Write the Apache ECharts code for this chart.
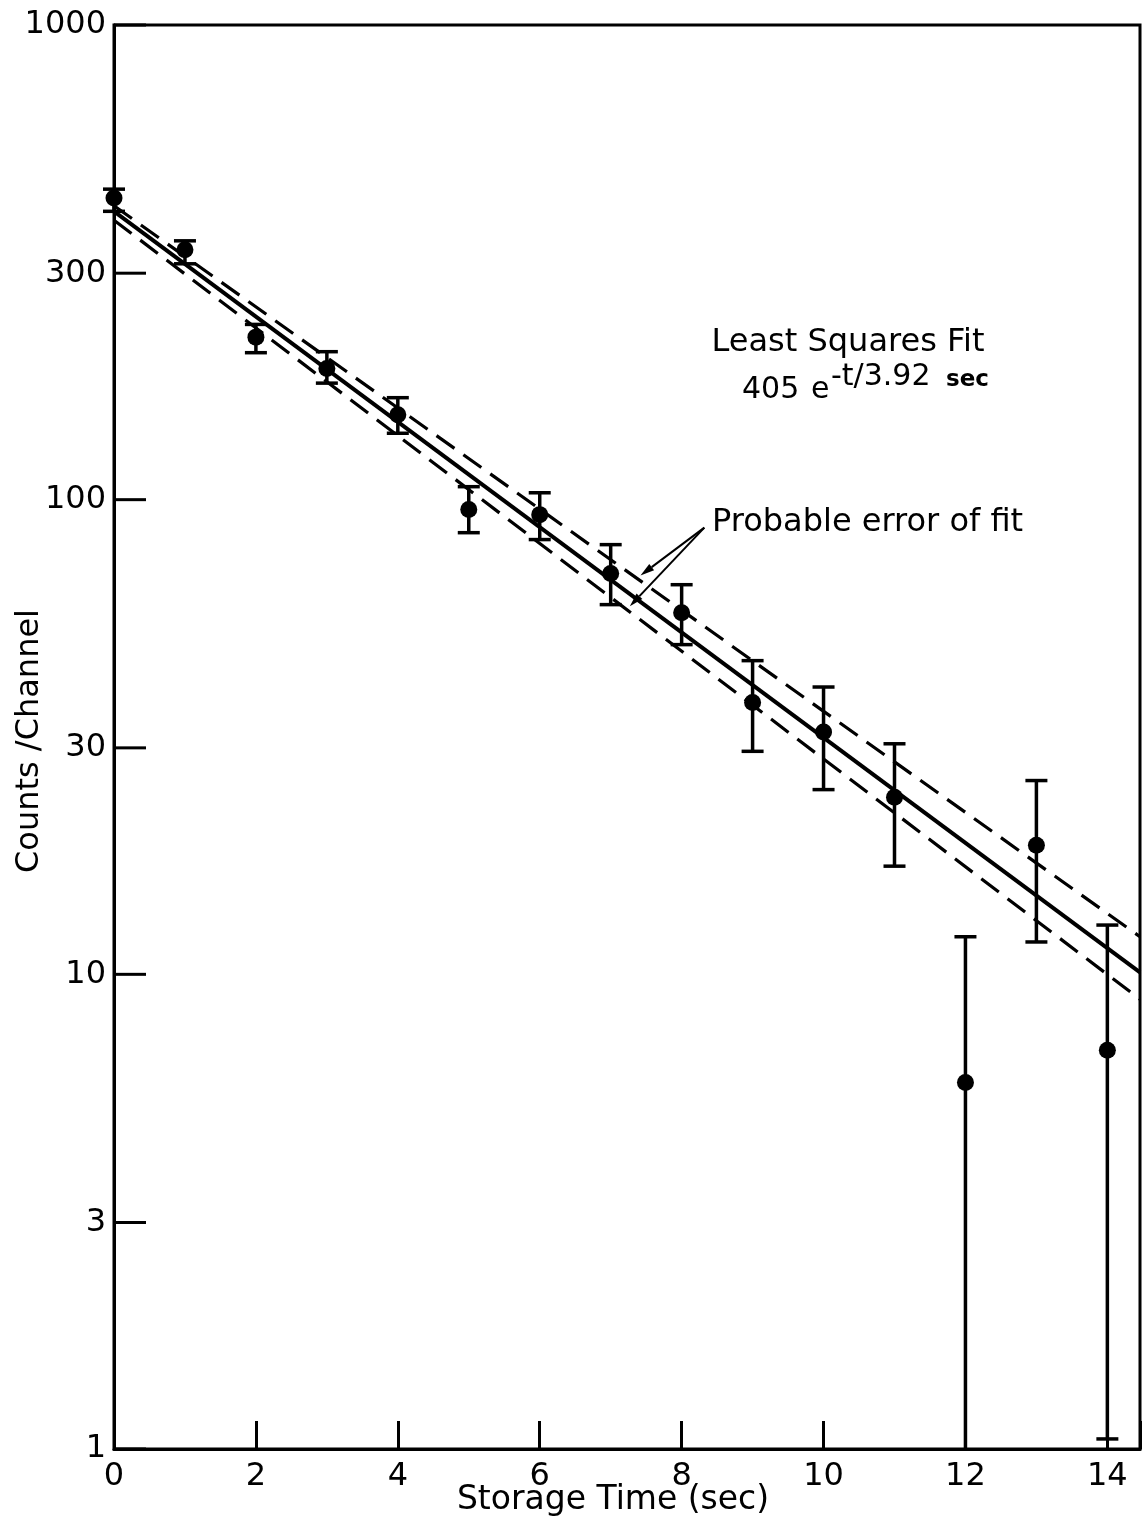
<!DOCTYPE html>
<html><head><meta charset="utf-8">
<script src="https://cdn.jsdelivr.net/npm/echarts@6/dist/echarts.min.js"></script>
<style>html,body{margin:0;padding:0;background:#fff}#c{width:1143px;height:1533px}</style>
</head><body><div id="c"></div>
<script>
// ---- data ----
const times    = [0, 1, 2, 3, 4, 5, 6, 7, 8, 9, 10, 11, 12, 13, 14];
const counts   = [432, 336, 220, 189, 151, 95.3, 93.0, 69.9, 57.8, 37.4, 32.4, 23.6, 5.92, 18.7, 6.92];
const errLow   = [405, 314, 204, 176, 138, 85.2, 82.4, 60.1, 49.5, 29.5, 24.5, 16.9, 1.0, 11.7, 1.05];
const errHigh  = [451, 351, 234, 205, 164, 106.5, 103.4, 80.4, 66.2, 45.8, 40.3, 30.6, 12.0, 25.6, 12.7];
const fitTimes = [0, 14.46];
const fitCounts = [405, 10.1];
const fitUpper  = [416, 12.0];
const fitLower  = [388, 8.86];
const xTicks = [0, 2, 4, 6, 8, 10, 12, 14];
const yTicks = [1, 3, 10, 30, 100, 300, 1000];
const yTickLabels = ['1', '3', '10', '30', '100', '300', '1000'];
const arrowFrom = [8.32, 87.3];
const arrowTo = [[7.42, 69.2], [7.27, 59.6]];

const FONT = 'DejaVu Sans';
const chart = echarts.init(document.getElementById('c'), null, {renderer: 'canvas'});

const pair = (xs, ys) => xs.map((x, i) => [x, ys[i]]);

const option = {
  backgroundColor: '#fff',
  animation: false,
  grid: {left: 114, top: 25, width: 1027, height: 1424, show: true, borderColor: '#000', borderWidth: 3, backgroundColor: 'transparent'},
  xAxis: {
    type: 'value', min: 0, max: 14.46, interval: 2,
    axisLine: {show: true, lineStyle: {color: '#000', width: 3}},
    axisTick: {show: true, inside: true, length: 28, lineStyle: {color: '#000', width: 3}},
    axisLabel: {
      show: true, margin: 12, color: '#000', fontFamily: FONT, fontSize: 32,
      formatter: v => xTicks.includes(v) ? String(v) : ''
    },
    splitLine: {show: false}
  },
  yAxis: {
    type: 'log', logBase: 10, min: 1, max: 1000,
    axisLine: {show: true, lineStyle: {color: '#000', width: 3}},
    axisTick: {show: false}, axisLabel: {show: false}, splitLine: {show: false}, minorTick: {show: false}
  },
  series: [
    { // y ticks + labels at 1,3,10,...
      type: 'custom', silent: true, z: 5,
      data: yTicks.map((v, i) => [0, v, i]),
      renderItem: (params, api) => {
        const v = api.value(1);
        const p = api.coord([0, v]);
        const lab = yTickLabels[api.value(2)];
        return {
          type: 'group',
          children: [
            {type: 'line', shape: {x1: p[0], y1: p[1], x2: p[0] + 32, y2: p[1]}, style: {stroke: '#000', lineWidth: 3}},
            {type: 'text', style: {text: lab, x: p[0] - 8, y: p[1], align: 'right', verticalAlign: 'middle', fontFamily: FONT, fontSize: 32, fill: '#000'}}
          ]
        };
      }
    },
    { // fit
      type: 'line', data: pair(fitTimes, fitCounts), symbol: 'none', z: 3,
      lineStyle: {color: '#000', width: 4}
    },
    { // probable error upper
      type: 'line', data: pair(fitTimes, fitUpper), symbol: 'none', z: 3,
      lineStyle: {color: '#000', width: 3.2, type: [22, 11]}
    },
    { // probable error lower
      type: 'line', data: pair(fitTimes, fitLower), symbol: 'none', z: 3,
      lineStyle: {color: '#000', width: 3.2, type: [22, 11]}
    },
    { // error bars
      type: 'custom', z: 4,
      data: times.map((t, i) => [t, errLow[i], errHigh[i]]),
      renderItem: (params, api) => {
        const t = api.value(0);
        const top = api.coord([t, api.value(2)]);
        const bot = api.coord([t, api.value(1)]);
        const w = 11;
        const st = {stroke: '#000', lineWidth: 3.5};
        const ch = [
          {type: 'line', shape: {x1: top[0], y1: top[1], x2: bot[0], y2: bot[1]}, style: st},
          {type: 'line', shape: {x1: top[0] - w, y1: top[1], x2: top[0] + w, y2: top[1]}, style: st}
        ];
        if (api.value(1) > 1) ch.push({type: 'line', shape: {x1: bot[0] - w, y1: bot[1], x2: bot[0] + w, y2: bot[1]}, style: st});
        return {type: 'group', children: ch};
      }
    },
    { // data points
      type: 'scatter', data: pair(times, counts), symbol: 'circle', symbolSize: 17, z: 6,
      itemStyle: {color: '#000', opacity: 1}
    },
    { // annotation arrows
      type: 'custom', silent: true, z: 7,
      data: arrowTo.map(p => [arrowFrom[0], arrowFrom[1], p[0], p[1]]),
      renderItem: (params, api) => {
        const a = api.coord([api.value(0), api.value(1)]);
        const b = api.coord([api.value(2), api.value(3)]);
        const dx = b[0] - a[0], dy = b[1] - a[1];
        const L = Math.hypot(dx, dy), ux = dx / L, uy = dy / L, nx = -uy, ny = ux;
        const hl = 14, hw = 4;
        const base = [b[0] - ux * hl, b[1] - uy * hl];
        return {
          type: 'group',
          children: [
            {type: 'line', shape: {x1: a[0], y1: a[1], x2: base[0], y2: base[1]}, style: {stroke: '#000', lineWidth: 2}},
            {type: 'polygon', shape: {points: [b, [base[0] + nx * hw, base[1] + ny * hw], [base[0] - nx * hw, base[1] - ny * hw]]}, style: {fill: '#000'}}
          ]
        };
      }
    }
  ],
  graphic: [
    {type: 'text', style: {text: 'Least Squares Fit', x: 848, y: 343, align: 'center', verticalAlign: 'middle', fontFamily: FONT, fontSize: 32, fill: '#000'}},
    {type: 'text', style: {text: '405', x: 742, y: 390, align: 'left', verticalAlign: 'middle', fontFamily: FONT, fontSize: 30, fill: '#000'}},
    {type: 'text', style: {text: 'e', x: 811, y: 390, align: 'left', verticalAlign: 'middle', fontFamily: FONT, fontSize: 30, fill: '#000'}},
    {type: 'text', style: {text: '-t/3.92', x: 831, y: 377, align: 'left', verticalAlign: 'middle', fontFamily: FONT, fontSize: 30, fill: '#000'}},
    {type: 'text', style: {text: 'sec', x: 946, y: 380, align: 'left', verticalAlign: 'middle', fontFamily: FONT, fontSize: 23, fontWeight: 'bold', fill: '#000'}},
    {type: 'text', style: {text: 'Probable error of fit', x: 712, y: 523, align: 'left', verticalAlign: 'middle', fontFamily: FONT, fontSize: 32, fill: '#000'}},
    {type: 'text', style: {text: 'Storage Time (sec)', x: 613, y: 1500, align: 'center', verticalAlign: 'middle', fontFamily: FONT, fontSize: 33, fill: '#000'}},
    {type: 'text', rotation: Math.PI / 2, x: 30, y: 741, style: {text: 'Counts /Channel', x: 0, y: 0, align: 'center', verticalAlign: 'middle', fontFamily: FONT, fontSize: 32, fill: '#000'}}
  ]
};
chart.setOption(option);
</script>
</body></html>
